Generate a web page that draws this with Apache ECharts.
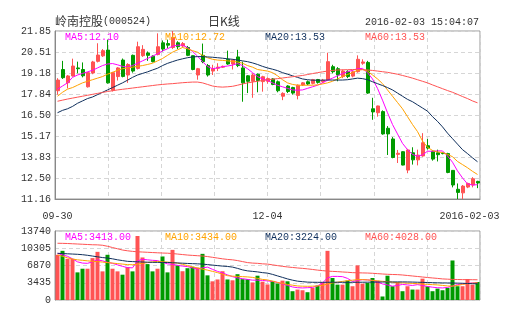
<!DOCTYPE html>
<html><head><meta charset="utf-8">
<script src="https://cdn.jsdelivr.net/npm/echarts/dist/echarts.min.js"></script>
<style>html,body{margin:0;padding:0;background:#fff}#c{width:505px;height:330px}</style>
</head><body><div id="c"></div>
<script>
const dates = ['2015-09-30','2015-10-08','2015-10-09','2015-10-12','2015-10-13','2015-10-14','2015-10-15','2015-10-16','2015-10-19','2015-10-20','2015-10-21','2015-10-22','2015-10-23','2015-10-26','2015-10-27','2015-10-28','2015-10-29','2015-10-30','2015-11-02','2015-11-03','2015-11-04','2015-11-05','2015-11-06','2015-11-09','2015-11-10','2015-11-11','2015-11-12','2015-11-13','2015-11-16','2015-11-17','2015-11-18','2015-11-19','2015-11-20','2015-11-23','2015-11-24','2015-11-25','2015-11-26','2015-11-27','2015-11-30','2015-12-01','2015-12-02','2015-12-03','2015-12-04','2015-12-07','2015-12-08','2015-12-09','2015-12-10','2015-12-11','2015-12-14','2015-12-15','2015-12-16','2015-12-17','2015-12-18','2015-12-21','2015-12-22','2015-12-23','2015-12-24','2015-12-25','2015-12-28','2015-12-29','2015-12-30','2015-12-31','2016-01-04','2016-01-05','2016-01-06','2016-01-07','2016-01-08','2016-01-11','2016-01-12','2016-01-13','2016-01-14','2016-01-15','2016-01-18','2016-01-19','2016-01-20','2016-01-21','2016-01-22','2016-01-25','2016-01-26','2016-01-27','2016-01-28','2016-01-29','2016-02-01','2016-02-02','2016-02-03'];
const labelIdx = [0, 42, 84];

const open = [18.05,19.40,18.56,18.99,19.50,19.40,18.30,19.18,19.92,20.27,20.64,18.08,18.95,20.00,19.05,20.30,19.47,20.28,20.45,20.25,20.35,21.10,21.05,20.80,21.10,20.90,20.80,20.28,19.05,20.30,19.65,19.30,19.48,19.55,20.05,19.75,20.20,19.50,19.00,18.65,19.10,18.63,18.65,18.80,18.62,17.70,18.35,18.25,17.75,18.42,18.62,18.52,18.76,18.62,18.75,19.58,19.45,18.95,19.28,18.98,19.26,19.80,19.85,16.90,16.65,16.72,15.66,14.98,14.00,14.17,13.00,14.10,13.65,13.90,14.55,14.20,14.10,14.08,14.05,12.98,11.78,11.55,11.92,12.05,12.28];
const close = [18.73,18.88,18.99,19.62,19.45,19.00,19.20,19.88,20.32,20.60,18.55,19.20,19.50,18.96,19.72,19.30,20.85,20.68,20.30,19.90,20.85,20.70,20.95,21.45,20.85,21.05,20.30,19.40,19.45,19.90,19.05,19.45,19.55,19.60,19.75,20.00,19.65,18.55,18.65,19.05,18.70,18.94,18.82,18.45,18.05,17.88,18.00,17.90,18.40,18.55,18.48,18.75,18.58,18.72,19.90,19.26,19.05,19.30,18.95,19.25,20.05,19.88,17.90,16.70,17.08,15.30,15.30,13.80,14.07,13.32,14.28,13.65,13.95,14.74,14.40,13.70,13.98,14.05,12.85,12.05,11.58,11.98,12.15,12.45,12.18];
const low = [17.80,18.80,18.20,18.95,19.16,18.90,18.25,19.10,19.85,20.20,18.50,18.00,18.70,18.90,18.55,19.20,19.40,20.20,19.95,19.85,20.30,20.55,20.75,20.70,20.70,20.80,20.25,19.35,18.75,19.80,18.95,19.05,19.30,19.50,19.70,19.40,19.55,17.35,17.90,17.60,17.95,17.99,18.50,18.40,17.95,17.45,17.90,17.80,17.50,18.35,18.40,18.45,18.50,18.55,18.70,19.15,18.65,18.85,18.85,18.90,19.20,19.70,17.85,16.20,16.40,15.25,13.96,13.75,13.45,13.30,12.80,13.35,13.30,13.85,14.30,13.60,13.55,14.00,12.80,11.90,11.16,11.16,11.85,11.90,11.85];
const high = [18.85,19.95,19.05,20.09,19.90,19.85,19.25,19.95,21.07,20.70,21.30,19.25,19.55,20.10,19.80,20.35,21.17,20.95,20.55,20.30,21.70,21.25,21.30,21.85,21.20,21.15,20.90,20.30,19.50,21.05,19.75,19.70,19.80,19.65,20.60,20.05,20.65,19.90,19.05,19.15,19.15,19.00,18.90,18.85,18.70,17.95,18.40,18.30,18.45,18.60,18.70,18.80,18.80,18.80,20.47,19.70,19.55,19.40,19.35,19.35,20.30,20.05,19.95,17.60,17.10,16.80,15.80,15.10,14.28,14.20,14.35,14.45,14.30,15.35,14.98,14.25,14.30,14.12,14.10,13.00,12.15,12.05,12.20,12.55,12.32];

const ma5 = [18.15,18.35,18.55,18.90,19.05,19.15,19.25,19.35,19.50,19.65,19.75,19.78,19.70,19.60,19.55,19.65,19.80,19.95,20.10,20.25,20.40,20.58,20.72,20.88,20.95,20.95,20.80,20.55,20.25,19.90,19.60,19.45,19.50,19.58,19.62,19.68,19.78,19.65,19.45,19.20,18.95,18.80,18.70,18.55,18.40,18.30,18.20,18.10,18.08,18.10,18.20,18.30,18.40,18.55,18.72,18.85,19.00,19.15,19.25,19.35,19.45,19.47,19.20,18.80,18.20,17.45,16.65,15.90,15.30,14.70,14.30,14.00,13.88,13.97,14.20,14.20,14.22,14.22,13.90,13.50,12.95,12.50,12.12,12.05,12.07];
const ma10 = [17.70,17.95,18.15,18.25,18.40,18.55,18.65,18.75,18.85,18.95,19.10,19.22,19.35,19.45,19.50,19.55,19.60,19.65,19.72,19.80,19.95,20.10,20.30,20.50,20.65,20.80,20.72,20.60,20.50,20.30,20.15,20.05,20.00,19.98,19.95,19.92,19.88,19.80,19.65,19.55,19.40,19.35,19.30,19.20,19.00,18.75,18.55,18.45,18.40,18.40,18.40,18.40,18.42,18.48,18.55,18.65,18.80,18.95,19.08,19.20,19.35,19.40,19.30,19.05,18.80,18.50,18.10,17.70,17.30,16.90,16.40,15.90,15.45,14.85,14.45,14.25,14.15,14.12,14.00,13.85,13.55,13.35,13.15,12.92,12.72];
const ma20 = [16.65,16.80,16.90,17.05,17.25,17.40,17.55,17.65,17.80,17.95,18.10,18.25,18.40,18.55,18.72,18.90,19.05,19.15,19.25,19.37,19.48,19.65,19.79,19.90,20.00,20.08,20.15,20.20,20.22,20.22,20.20,20.18,20.15,20.12,20.08,20.05,20.00,19.95,19.90,19.82,19.72,19.60,19.50,19.42,19.33,19.20,19.10,19.00,18.90,18.80,18.75,18.72,18.72,18.72,18.73,18.73,18.73,18.73,18.75,18.80,18.85,18.82,18.75,18.62,18.50,18.38,18.25,18.10,17.90,17.70,17.50,17.35,17.15,16.95,16.75,16.40,16.10,15.75,15.35,15.00,14.65,14.30,14.05,13.78,13.53];
const ma60 = [17.38,17.45,17.52,17.58,17.64,17.70,17.76,17.82,17.88,17.94,18.00,18.05,18.10,18.14,18.18,18.22,18.26,18.30,18.34,18.38,18.42,18.45,18.48,18.50,18.53,18.56,18.58,18.60,18.60,18.55,18.45,18.35,18.30,18.28,18.30,18.33,18.40,18.48,18.55,18.60,18.65,18.70,18.75,18.78,18.82,18.86,18.90,18.94,18.98,19.02,19.08,19.14,19.20,19.25,19.30,19.34,19.37,19.38,19.39,19.40,19.40,19.39,19.37,19.34,19.30,19.26,19.22,19.16,19.10,19.02,18.94,18.85,18.75,18.65,18.55,18.42,18.30,18.18,18.06,17.95,17.82,17.68,17.55,17.40,17.28];

const volume = [9000,9790,8200,8200,5500,6230,6230,8340,9590,5700,9000,6230,5700,5040,6560,5700,12750,8470,7150,5700,6230,8670,5500,9980,6890,5730,6330,6620,6460,9190,4910,3720,4090,5730,4090,3920,5140,4150,4150,3500,4840,3650,3100,3800,3300,3855,3723,1750,2080,1940,1550,2400,2870,3530,9790,4380,3060,3060,3860,2740,6890,3260,3400,4380,3850,700,4840,2740,3530,1750,2740,2080,2080,4250,2740,1750,2270,1940,2400,7870,2740,2740,4180,3060,3590];
const vma5 = [9300,9000,8700,8200,7600,7350,7300,7600,8000,7800,7500,7300,7000,6700,6450,6400,7800,8100,8000,7900,7850,7500,7200,7100,6900,6750,6650,6400,6160,6400,6550,6100,5700,5400,5000,4650,4400,4250,4100,3950,3950,3900,3800,3700,3500,3200,2900,2600,2450,2400,2450,2500,2800,3400,4400,4700,4700,4650,4300,3700,3900,4050,4000,3900,3600,3200,3000,2750,2900,3100,3000,2900,3060,2900,2700,2550,2450,2400,2500,2800,3060,3200,3300,3400,3413];
const vma10 = [9000,8700,8400,8150,8000,7900,7800,7700,7650,7550,7450,7350,7250,7150,7050,7020,7150,7300,7450,7600,7680,7620,7550,7450,7350,7100,6850,6600,6360,6150,5950,5700,5450,5150,4840,4750,4700,4650,4600,4500,4300,4100,4000,3750,3500,3300,3100,2950,2800,2750,2730,2750,2800,2900,3200,3400,3550,3700,3850,3950,4050,4060,4000,3900,3800,3720,3650,3550,3450,3400,3350,3300,3250,3180,3100,3060,3000,2900,2800,2750,2900,3100,3250,3350,3434];
const vma20 = [9300,9250,9200,9150,9100,9020,8900,8750,8600,8450,8350,8200,8000,7850,7700,7650,7600,7560,7530,7500,7490,7480,7470,7420,7380,7330,7280,7240,7200,7150,7050,6950,6850,6750,6680,6550,6300,6000,5800,5700,5600,5450,5350,5100,4800,4500,4200,3950,3750,3650,3560,3530,3520,3520,3530,3540,3530,3520,3520,3520,3530,3540,3550,3560,3570,3580,3590,3590,3600,3600,3590,3570,3540,3510,3480,3450,3420,3400,3390,3380,3360,3330,3290,3250,3224];
const vma60 = [11300,11280,11250,11200,11150,11100,11050,11000,10980,10900,10700,10450,10200,9950,9800,9680,9600,9550,9500,9450,9400,9350,9320,9250,9150,9050,8950,8880,8820,8750,8650,8500,8350,8200,8080,8000,7850,7650,7450,7350,7300,7200,7150,7000,6850,6700,6580,6480,6380,6300,6200,6080,5950,5850,5750,5700,5650,5580,5520,5450,5420,5390,5370,5320,5250,5180,5120,5080,5050,4980,4880,4780,4680,4580,4480,4390,4300,4200,4150,4100,4080,4060,4050,4040,4028];

const priceTicks = ['11.16','12.50','13.83','15.17','16.50','17.84','19.18','20.51','21.85'];
const volTicks = ['0','3435','6870','10305','13740'];
const stockName = '岭南控股';
const stockCode = '(000524)';
const periodText = '日K线';
const timeText = '2016-02-03 15:04:07';
const priceMaText = ['MA5:12.10','MA10:12.72','MA20:13.53','MA60:13.53'];
const volMaText = ['MA5:3413.00','MA10:3434.00','MA20:3224.00','MA60:4028.00'];

const FONT = "'Liberation Mono','DejaVu Sans Mono',monospace";
const CJK = "'Noto Sans CJK SC','Noto Sans',sans-serif";
const UP = '#ff5353', DOWN = '#009a00';
const MA_COLORS = ['#ff00ff', '#ffa200', '#0f2f5c', '#ff5353'];
const GRIDC = '#d6d6d6';
const TXT = '#333';

const dash = {show: true, lineStyle: {color: GRIDC, type: [4, 3], width: 1}};

function maLine(data, color, xi, yi) {
  return {type: 'line', data: data, xAxisIndex: xi, yAxisIndex: yi, symbol: 'none',
    lineStyle: {color: color, width: 1}, itemStyle: {color: color}, silent: true, z: 3};
}

function txt(x, y, text, color, size, family, align) {
  return {type: 'text', x: x, y: y, z: 100,
    style: {text: text, fill: color, fontSize: size, fontFamily: family,
      align: align || 'left', verticalAlign: 'middle', textAlign: align || 'left', textVerticalAlign: 'middle'}};
}

const chart = echarts.init(document.getElementById('c'), null, {renderer: 'canvas'});
const graphics = [
  txt(55, 21, stockName, TXT, 12, CJK),
  txt(103, 21, stockCode, TXT, 10, FONT),
  txt(208, 21, periodText, TXT, 12, CJK),
  txt(479, 22, timeText, TXT, 10, FONT, 'right')
];
priceMaText.forEach((t, k) => graphics.push(txt(65 + 100 * k, 37, t, MA_COLORS[k], 10, FONT)));
volMaText.forEach((t, k) => graphics.push(txt(65 + 100 * k, 237, t, MA_COLORS[k], 10, FONT)));

const option = {
  animation: false,
  backgroundColor: '#fff',
  grid: [
    {left: 55, top: 31, width: 425, height: 168, show: true, borderColor: '#999', borderWidth: 1, backgroundColor: 'transparent'},
    {left: 55, top: 231, width: 425, height: 69, show: true, borderColor: '#999', borderWidth: 1, backgroundColor: 'transparent'}
  ],
  xAxis: [
    {type: 'category', gridIndex: 0, data: dates, boundaryGap: true,
      axisLine: {show: true, lineStyle: {color: '#888'}}, axisTick: {show: false}, splitLine: {show: false},
      axisLabel: {
        interval: (i) => labelIdx.indexOf(i) >= 0,
        formatter: (v, i) => i === dates.length - 1 ? '{r|' + v + '}' : v.slice(5),
        rich: {r: {padding: [0, 16, 0, 0], fontFamily: FONT, fontSize: 10, color: TXT}},
        fontFamily: FONT, fontSize: 10, color: TXT, margin: 12, hideOverlap: false,
        showMinLabel: true, showMaxLabel: true
      }},
    {type: 'value', gridIndex: 0, min: 0, max: 8, interval: 1, position: 'bottom',
      axisLine: {show: false}, axisTick: {show: false}, axisLabel: {show: false}, splitLine: dash},
    {type: 'category', gridIndex: 1, data: dates, boundaryGap: true,
      axisLine: {show: false}, axisTick: {show: false}, axisLabel: {show: false}, splitLine: {show: false}},
    {type: 'value', gridIndex: 1, min: 0, max: 8, interval: 1, position: 'bottom',
      axisLine: {show: false}, axisTick: {show: false}, axisLabel: {show: false}, splitLine: dash}
  ],
  yAxis: [
    {type: 'value', gridIndex: 0, min: 11.16, max: 21.85, show: false, scale: true},
    {type: 'value', gridIndex: 0, min: 0, max: 8, interval: 1, position: 'left',
      axisLine: {show: true, lineStyle: {color: '#888'}}, axisTick: {show: false},
      axisLabel: {formatter: (v) => priceTicks[Math.round(v)], fontFamily: FONT, fontSize: 10, color: TXT, margin: 4},
      splitLine: dash},
    {type: 'value', gridIndex: 1, min: 0, max: 13740, interval: 3435, position: 'left',
      axisLine: {show: true, lineStyle: {color: '#888'}}, axisTick: {show: false},
      axisLabel: {formatter: (v) => volTicks[Math.round(v / 3435)], fontFamily: FONT, fontSize: 10, color: TXT, margin: 4},
      splitLine: dash}
  ],
  series: [
    {type: 'candlestick', xAxisIndex: 0, yAxisIndex: 0, barWidth: 3.5,
      data: dates.map((d, i) => [open[i], close[i], low[i], high[i]]),
      itemStyle: {color: UP, color0: DOWN, borderColor: UP, borderColor0: DOWN, borderWidth: 1}, z: 2},
    maLine(ma5, MA_COLORS[0], 0, 0),
    maLine(ma10, MA_COLORS[1], 0, 0),
    maLine(ma20, MA_COLORS[2], 0, 0),
    maLine(ma60, MA_COLORS[3], 0, 0),
    {type: 'bar', xAxisIndex: 2, yAxisIndex: 2, barWidth: 4,
      data: volume.map((v, i) => ({value: v, itemStyle: {color: close[i] >= open[i] ? UP : DOWN}})), z: 2},
    maLine(vma5, MA_COLORS[0], 2, 2),
    maLine(vma10, MA_COLORS[1], 2, 2),
    maLine(vma20, MA_COLORS[2], 2, 2),
    maLine(vma60, MA_COLORS[3], 2, 2)
  ],
  graphic: graphics
};
chart.setOption(option);
</script></body></html>
